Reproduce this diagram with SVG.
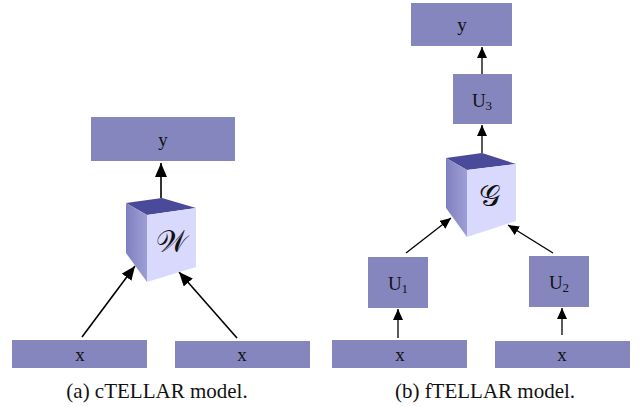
<svg xmlns="http://www.w3.org/2000/svg" width="643" height="407" viewBox="0 0 643 407">
<style>
.box{fill:#8686be}
.lbl{font-family:"Liberation Serif",serif;font-size:19px;fill:#111;text-anchor:middle}
.sub{font-size:13px}
.cal{font-family:"DejaVu Sans","Noto Sans",serif;font-size:30px;fill:#111;text-anchor:middle}
.cap{font-family:"Liberation Serif",serif;font-size:21px;fill:#111;text-anchor:middle}
.top{fill:#4a4a9a}
.left{fill:url(#lg)}
.right{fill:#d9d9fd}
.c1{stroke:#000;stroke-width:1.6;fill:none;marker-end:url(#ah1)}
.c2{stroke:#000;stroke-width:1.3;fill:none;marker-end:url(#ah2)}
</style>
<defs>
<linearGradient id="lg" x1="0" y1="0" x2="1" y2="0">
<stop offset="0" stop-color="#8080c0"/>
<stop offset="1" stop-color="#9f9fd6"/>
</linearGradient>
<marker id="ah1" markerUnits="userSpaceOnUse" markerWidth="14" markerHeight="12" viewBox="0 0 14 12" refX="14" refY="6" orient="auto">
<path d="M0,0 L14,6 L0,12 Z" fill="#000"/>
</marker>
<marker id="ah2" markerUnits="userSpaceOnUse" markerWidth="11" markerHeight="10" viewBox="0 0 11 10" refX="11" refY="5" orient="auto">
<path d="M0,0 L11,5 L0,10 Z" fill="#000"/>
</marker>
</defs>

<g id="connectors">
<line class="c1" x1="161" y1="198" x2="161" y2="163"/>
<line class="c1" x1="82" y1="337" x2="135" y2="266"/>
<line class="c1" x1="237" y1="338" x2="179" y2="272"/>
<line class="c2" x1="482" y1="153" x2="482" y2="125"/>
<line class="c2" x1="482" y1="74" x2="482" y2="47"/>
<line class="c2" x1="406" y1="253" x2="451" y2="218"/>
<line class="c2" x1="553" y1="253" x2="508" y2="225"/>
<line class="c2" x1="398" y1="338" x2="398" y2="309"/>
<line class="c2" x1="562" y1="335" x2="562" y2="308"/>
</g>

<g id="a-y"><rect class="box" x="91" y="117" width="144" height="44"/><text class="lbl" x="163" y="146">y</text></g>
<g id="a-W">
<polygon class="top" points="126,203 162,198 196,208 147,215"/>
<polygon class="left" points="126,203 147,215 147,282 126,253"/>
<polygon class="right" points="147,215 196,208 196,267 147,282"/>
<text class="cal" x="171" y="252">𝒲</text>
</g>
<g id="a-x1"><rect class="box" x="12" y="340" width="135" height="28"/><text class="lbl" x="80" y="361">x</text></g>
<g id="a-x2"><rect class="box" x="175" y="341" width="135" height="27"/><text class="lbl" x="242" y="361">x</text></g>

<g id="b-y"><rect class="box" x="411" y="3" width="101" height="43"/><text class="lbl" x="462" y="31">y</text></g>
<g id="b-U3"><rect class="box" x="453" y="74" width="59" height="50"/><text class="lbl" x="482" y="107">U<tspan class="sub" dy="3">3</tspan></text></g>
<g id="b-G">
<polygon class="top" points="446,158 482,153 516,164 467,170"/>
<polygon class="left" points="446,158 467,170 467,237 446,208"/>
<polygon class="right" points="467,170 516,164 516,221 467,237"/>
<text class="cal" x="489" y="206">𝒢</text>
</g>
<g id="b-U1"><rect class="box" x="368" y="257" width="60" height="51"/><text class="lbl" x="398" y="290">U<tspan class="sub" dy="3">1</tspan></text></g>
<g id="b-U2"><rect class="box" x="529" y="256" width="60" height="51"/><text class="lbl" x="559" y="289">U<tspan class="sub" dy="3">2</tspan></text></g>
<g id="b-x1"><rect class="box" x="332" y="340" width="135" height="28"/><text class="lbl" x="400" y="361">x</text></g>
<g id="b-x2"><rect class="box" x="495" y="341" width="135" height="27"/><text class="lbl" x="562" y="361">x</text></g>

<text class="cap" x="157" y="398">(a) cTELLAR model.</text>
<text class="cap" x="485" y="398">(b) fTELLAR model.</text>
</svg>
